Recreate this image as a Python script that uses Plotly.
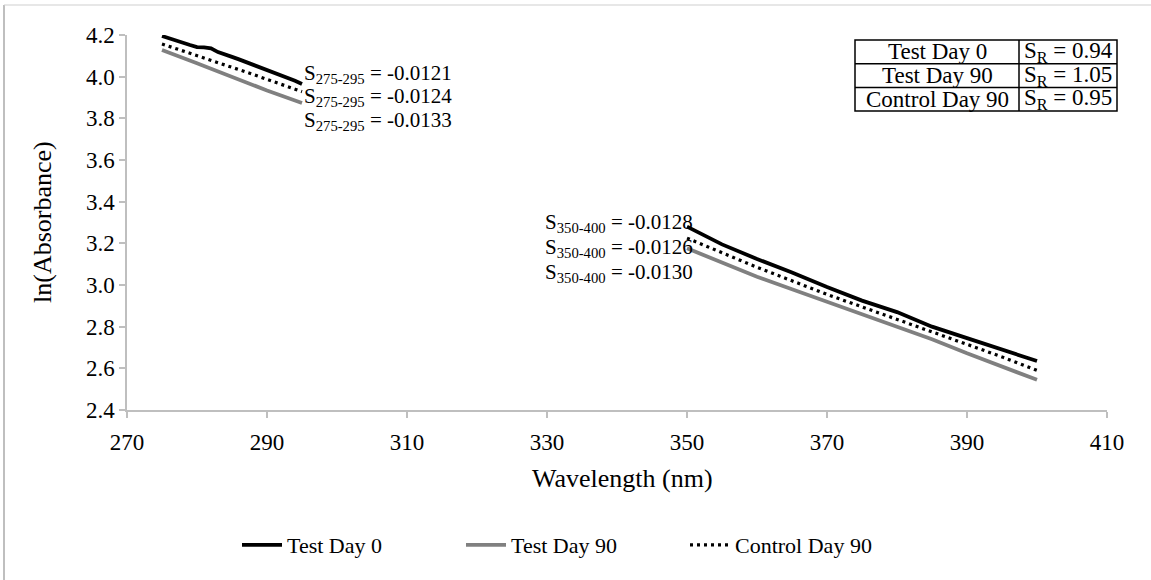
import plotly.graph_objects as go

# ---------------- data ----------------
wl_uv = [275, 276, 277, 278, 279, 280, 281, 282, 283, 284, 285,
         286, 287, 288, 289, 290, 291, 292, 293, 294, 295]
test0_uv = [4.195, 4.183, 4.172, 4.163, 4.152, 4.142, 4.141, 4.136, 4.118, 4.108, 4.095,
            4.083, 4.070, 4.060, 4.047, 4.034, 4.022, 4.008, 3.995, 3.980, 3.965]
test90_uv = [4.128, 4.116, 4.103, 4.092, 4.078, 4.064, 4.051, 4.038, 4.024, 4.010, 3.996,
             3.982, 3.971, 3.958, 3.946, 3.934, 3.922, 3.910, 3.898, 3.886, 3.874]
ctrl90_uv = [4.157, 4.146, 4.135, 4.124, 4.113, 4.102, 4.090, 4.079, 4.068, 4.057, 4.045,
             4.034, 4.022, 4.011, 3.999, 3.988, 3.976, 3.964, 3.952, 3.940, 3.928]

wl_vis = [350, 355, 360, 365, 370, 375, 380, 385, 390, 395, 400]
test0_vis = [3.280, 3.195, 3.125, 3.060, 2.990, 2.925, 2.870, 2.800, 2.745, 2.690, 2.635]
test90_vis = [3.176, 3.110, 3.040, 2.980, 2.920, 2.860, 2.800, 2.740, 2.672, 2.610, 2.545]
ctrl90_vis = [3.225, 3.155, 3.085, 3.020, 2.955, 2.895, 2.835, 2.775, 2.715, 2.655, 2.590]

series_names = ["Test Day 0", "Test Day 90", "Control Day 90"]
slope_uv = ["-0.0121", "-0.0124", "-0.0133"]
slope_vis = ["-0.0128", "-0.0126", "-0.0130"]
table_names = ["Test Day 0", "Test Day 90", "Control Day 90"]
table_sr = ["0.94", "1.05", "0.95"]

# ---------------- layout geometry ----------------
W, H = 1151, 580
L, R, T, B = 127, 44, 35, 170
PW, PH = W - L - R, H - T - B

def px(x):
    return (x - L) / PW

def py(y):
    return (H - B - y) / PH

FONT = "Liberation Serif, Times New Roman, serif"
styles = [dict(color="#000000", width=3.8, dash="solid"),
          dict(color="#808080", width=3.8, dash="solid"),
          dict(color="#000000", width=3.2, dash="3px,4px")]

fig = go.Figure()
uv = [test0_uv, test90_uv, ctrl90_uv]
vis = [test0_vis, test90_vis, ctrl90_vis]
for i, name in enumerate(series_names):
    xs = wl_uv + [None] + wl_vis
    ys = uv[i] + [None] + vis[i]
    fig.add_trace(go.Scatter(x=xs, y=ys, mode="lines", name=name,
                             line=styles[i], connectgaps=False))

annotations = []
for i, s in enumerate(slope_uv):
    annotations.append(dict(x=px(302), y=py(74 + 23.5 * i), xref="paper", yref="paper",
                            xanchor="left", yanchor="middle", showarrow=False,
                            text=f"S<sub>275-295</sub> = {s}",
                            font=dict(family=FONT, size=21, color="#000")))
for i, s in enumerate(slope_vis):
    annotations.append(dict(x=px(543), y=py(223 + 25 * i), xref="paper", yref="paper",
                            xanchor="left", yanchor="middle", showarrow=False,
                            text=f"S<sub>350-400</sub> = {s}",
                            font=dict(family=FONT, size=21, color="#000")))

# axis titles
annotations.append(dict(x=px(42), y=py(222), xref="paper", yref="paper",
                        xanchor="center", yanchor="middle", showarrow=False, textangle=-90,
                        text="ln(Absorbance)", font=dict(family=FONT, size=26, color="#000")))
annotations.append(dict(x=px(622), y=py(478), xref="paper", yref="paper",
                        xanchor="center", yanchor="middle", showarrow=False,
                        text="Wavelength (nm)", font=dict(family=FONT, size=26, color="#000")))

# table
tx0, tx1, tx2 = 855, 1019, 1117
ty0, rh = 40, 23.7
shapes = []
shapes.append(dict(type="rect", xref="paper", yref="paper",
                   x0=px(tx0), x1=px(tx2), y0=py(ty0), y1=py(ty0 + 3 * rh),
                   line=dict(color="#000", width=1.5), fillcolor="white", layer="above"))
shapes.append(dict(type="line", xref="paper", yref="paper",
                   x0=px(tx1), x1=px(tx1), y0=py(ty0), y1=py(ty0 + 3 * rh),
                   line=dict(color="#000", width=1.5)))
for k in (1, 2):
    shapes.append(dict(type="line", xref="paper", yref="paper",
                       x0=px(tx0), x1=px(tx2), y0=py(ty0 + k * rh), y1=py(ty0 + k * rh),
                       line=dict(color="#000", width=1.5)))
for i in range(3):
    yc = py(ty0 + (i + 0.5) * rh)
    annotations.append(dict(x=px((tx0 + tx1) / 2), y=yc, xref="paper", yref="paper",
                            xanchor="center", yanchor="middle", showarrow=False,
                            text=table_names[i], font=dict(family=FONT, size=23, color="#000")))
    annotations.append(dict(x=px(tx1 + 3), y=yc, xref="paper", yref="paper",
                            xanchor="left", yanchor="middle", showarrow=False,
                            text=f"S<sub>R</sub> = {table_sr[i]}",
                            font=dict(family=FONT, size=23, color="#000")))

# chart-area border (left and top visible in the reference)
shapes.append(dict(type="line", xref="paper", yref="paper",
                   x0=px(4), x1=px(4), y0=py(5), y1=py(581),
                   line=dict(color="#bfbfbf", width=2), layer="below"))
shapes.append(dict(type="line", xref="paper", yref="paper",
                   x0=px(4), x1=px(1151), y0=py(5), y1=py(5),
                   line=dict(color="#d0d0d0", width=1.2), layer="below"))

fig.update_layout(
    width=W, height=H,
    margin=dict(l=L, r=R, t=T, b=B, pad=0),
    paper_bgcolor="white", plot_bgcolor="white",
    font=dict(family=FONT, size=23, color="#000"),
    showlegend=True,
    xaxis=dict(range=[270, 410], dtick=20, tick0=270, showgrid=False, zeroline=False,
               showline=True, linecolor="#bfbfbf", linewidth=1.5,
               ticks="outside", ticklen=6, tickcolor="#bfbfbf", tickwidth=1.5,
               ticklabelstandoff=5, tickfont=dict(size=23)),
    yaxis=dict(range=[2.4, 4.2], dtick=0.2, tick0=2.4, tickformat=".1f",
               showgrid=False, zeroline=False,
               showline=True, linecolor="#bfbfbf", linewidth=1.5,
               ticks="outside", ticklen=6, tickcolor="#bfbfbf", tickwidth=1.5,
               tickfont=dict(size=23)),
    legend=dict(orientation="h", x=px(237), xanchor="left", y=py(545), yanchor="middle",
                font=dict(size=22), itemwidth=40, tracegroupgap=0,
                entrywidth=169, bgcolor="rgba(0,0,0,0)"),
    annotations=annotations, shapes=shapes,
)

fig.write_html("out.html", config={"displayModeBar": False},
               post_script="document.body.style.margin='0';")
